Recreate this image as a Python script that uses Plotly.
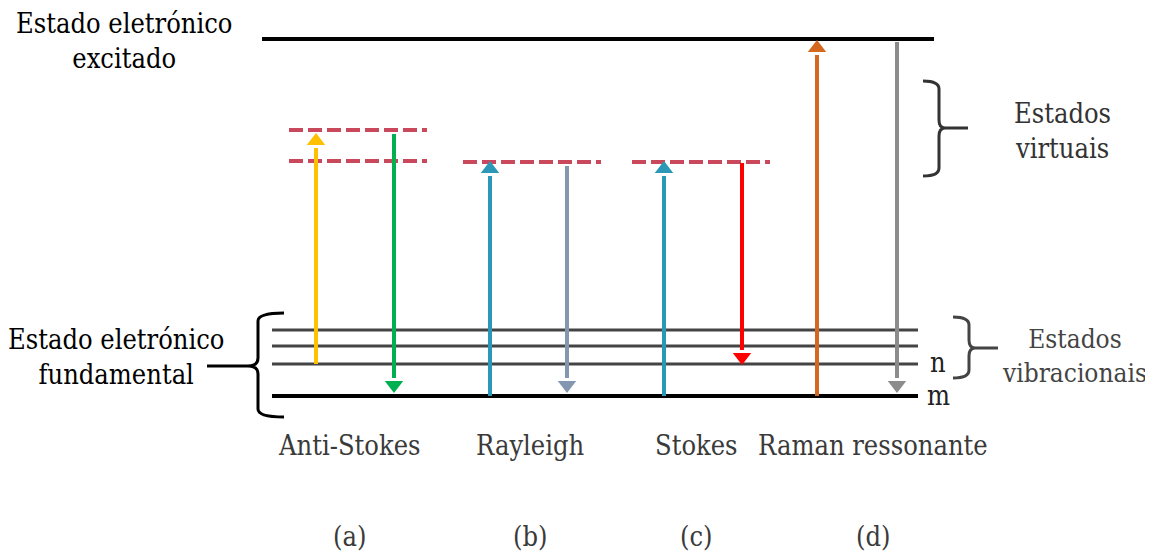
import plotly.graph_objects as go

# ---- data (diagram units: pixels from top of figure) ----
excited_level = 39
ground_level = 396
vib_levels = [330, 346, 364]
virtual_levels = {"a": [130, 161], "b": [162], "c": [162]}
virtual_x = {"a": [289, 427], "b": [463, 601], "c": [632, 770]}

arrow_x = [316, 394, 490, 567, 664, 742, 817, 897]
arrow_start = [364, 134, 396, 166, 396, 163, 396, 42]
arrow_end = [134, 392, 162, 392, 162, 364, 41, 392]
arrow_colors = ["#FFC000", "#00B050", "#2A98B6", "#8497B0", "#2A98B6", "#FF0000", "#D2691E", "#8C8C8C"]

process_labels = ["Anti-Stokes", "Rayleigh", "Stokes", "Raman ressonante"]
process_x = [349, 530, 696, 873]
panel_labels = ["(a)", "(b)", "(c)", "(d)"]

FONT = "DejaVu Serif Condensed"
OFF = 8  # page body margin
W, H = 1153, 554

fig = go.Figure()

fig.add_trace(go.Scatter(x=[262, 934], y=[excited_level] * 2, mode="lines",
                         line=dict(color="black", width=4), hoverinfo="skip"))
fig.add_trace(go.Scatter(x=[272, 918], y=[ground_level] * 2, mode="lines",
                         line=dict(color="black", width=4), hoverinfo="skip"))
for v in vib_levels:
    fig.add_trace(go.Scatter(x=[272, 918], y=[v, v], mode="lines",
                             line=dict(color="#444444", width=3), hoverinfo="skip"))

for k, ys in virtual_levels.items():
    for v in ys:
        fig.add_trace(go.Scatter(x=virtual_x[k], y=[v, v], mode="lines",
                                 line=dict(color="#C9485B", width=4, dash="14px,5px"),
                                 hoverinfo="skip"))

for x, y0, y1, c in zip(arrow_x, arrow_start, arrow_end, arrow_colors):
    up = y1 < y0
    head = 14
    shaft_end = y1 + head if up else y1 - head
    fig.add_trace(go.Scatter(x=[x, x], y=[y0, shaft_end], mode="lines",
                             line=dict(color=c, width=4), hoverinfo="skip"))
    fig.add_trace(go.Scatter(x=[x], y=[y1 + head / 2 if up else y1 - head / 2], mode="markers",
                             marker=dict(symbol="triangle-up" if up else "triangle-down",
                                         size=16, color=c, line=dict(width=0)),
                             hoverinfo="skip"))

def brace_left(xo, xi, y0, y1, ym, xs):
    return (f"M {xi},{y0} Q {xo},{y0} {xo},{y0+8} L {xo},{ym-8} Q {xo},{ym} {xo-10},{ym} "
            f"L {xs},{ym} M {xo-10},{ym} Q {xo},{ym} {xo},{ym+8} L {xo},{y1-8} Q {xo},{y1} {xi},{y1}")

def brace_right(xi, xo, y0, y1, ym, xs):
    return (f"M {xi},{y0} Q {xo},{y0} {xo},{y0+8} L {xo},{ym-8} Q {xo},{ym} {xo+6},{ym} "
            f"L {xs},{ym} M {xo+6},{ym} Q {xo},{ym} {xo},{ym+8} L {xo},{y1-8} Q {xo},{y1} {xi},{y1}")

shapes = [
    dict(type="path", path=brace_left(258, 284, 313, 417, 366, 207),
         line=dict(color="black", width=3)),
    dict(type="path", path=brace_right(923, 939, 81, 176, 128, 968),
         line=dict(color="#333333", width=3)),
    dict(type="path", path=brace_right(953, 969, 317, 378, 348, 998),
         line=dict(color="#444444", width=3)),
]
for s in shapes:
    s.update(xref="x", yref="y")

annotations = []
def txt(x, y, t, size=27, color="black"):
    annotations.append(dict(x=x, y=y, text=t, showarrow=False, xref="x", yref="y",
                            font=dict(family=FONT, size=size, color=color),
                            xanchor="center", yanchor="middle"))

txt(124, 41, "Estado eletrónico<br>excitado")
txt(116, 357, "Estado eletrónico<br>fundamental")
txt(1062, 131, "Estados<br>virtuais", color="#333333")
txt(1074, 356, "Estados<br>vibracionais", size=26, color="#444444")
txt(938, 362, "n", color="#222222")
txt(938, 395, "m", color="#222222")
for lab, x in zip(process_labels, process_x):
    txt(x, 445, lab, color="#3A3A3A")
for lab, x in zip(panel_labels, process_x):
    txt(x, 536, lab, color="#3A3A3A")

fig.update_layout(
    width=W - OFF, height=H - OFF, margin=dict(l=0, r=0, t=0, b=0),
    paper_bgcolor="white", plot_bgcolor="white", showlegend=False,
    xaxis=dict(range=[OFF, W], visible=False, fixedrange=True),
    yaxis=dict(range=[H, OFF], visible=False, fixedrange=True),
    shapes=shapes, annotations=annotations,
)
fig.write_html("out.html")
